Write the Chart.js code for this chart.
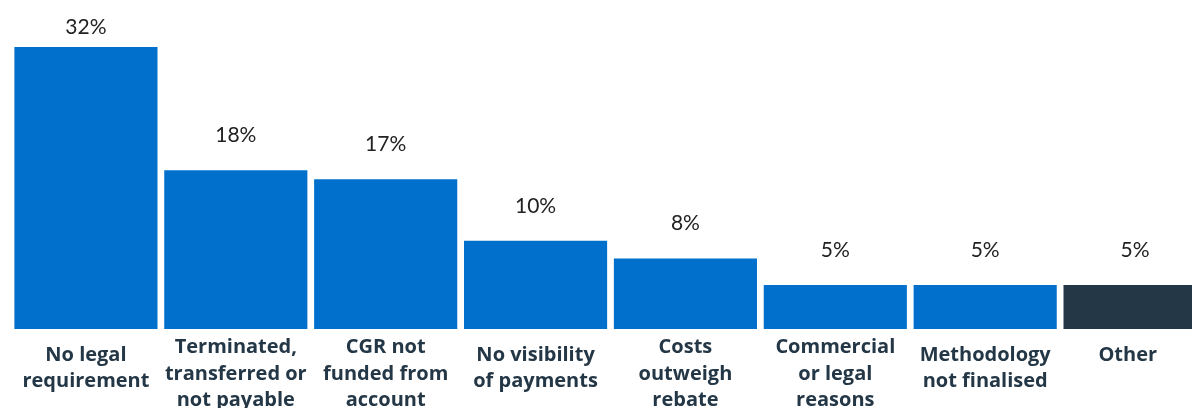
<!DOCTYPE html>
<html><head><meta charset="utf-8">
<script src="https://cdn.jsdelivr.net/npm/chart.js@4"></script>
<style>html,body{margin:0;padding:0;background:#fff;overflow:hidden}#wrap{width:1192px;height:408px;overflow:hidden;position:relative}#box{position:absolute;left:0;top:0;width:1210px;height:408px}</style>
</head><body><div id="wrap"><div id="box"><canvas id="c"></canvas></div></div>
<script>
const categories = [
  ["No legal","requirement"],
  ["Terminated,","transferred or","not payable"],
  ["CGR not","funded from","account"],
  ["No visibility","of payments"],
  ["Costs","outweigh","rebate"],
  ["Commercial","or legal","reasons"],
  ["Methodology","not finalised"],
  ["Other"]
];
const values = [32, 18, 17, 10, 8, 5, 5, 5];
const barColors = ["#0070CC","#0070CC","#0070CC","#0070CC","#0070CC","#0070CC","#0070CC","#243746"];

const VISIBLE_WIDTH = 1192;

const valueLabels = {
  id: 'valueLabels',
  afterDatasetsDraw(chart) {
    const ctx = chart.ctx;
    const meta = chart.getDatasetMeta(0);
    ctx.save();
    ctx.font = '21px Lato';
    ctx.fillStyle = '#222222';
    ctx.textAlign = 'center';
    ctx.textBaseline = 'alphabetic';
    meta.data.forEach((bar, i) => {
      ctx.fillText(values[i] + '%', bar.x, Math.max(bar.y - 28, 34));
    });
    ctx.restore();
  }
};

const categoryLabels = {
  id: 'categoryLabels',
  afterDraw(chart) {
    const ctx = chart.ctx;
    const xs = chart.scales.x;
    const meta = chart.getDatasetMeta(0);
    const bottom = chart.chartArea.bottom;
    const lh = 26.5;
    ctx.save();
    ctx.font = 'bold 20px "Open Sans"';
    ctx.fillStyle = '#243746';
    ctx.textAlign = 'center';
    ctx.textBaseline = 'alphabetic';
    categories.forEach((lines, i) => {
      const bar = meta.data[i];
      const left = bar.x - bar.width / 2;
      const right = Math.min(bar.x + bar.width / 2, VISIBLE_WIDTH);
      const cx = (left + right) / 2;
      const first = bottom + (lines.length >= 3 ? 24 : 31.5);
      lines.forEach((t, j) => ctx.fillText(t, cx, first + j * lh));
    });
    ctx.restore();
  }
};

new Chart(document.getElementById('c'), {
  type: 'bar',
  data: {
    labels: categories,
    datasets: [{ data: values, backgroundColor: barColors, borderWidth: 0, barPercentage: 0.955, categoryPercentage: 1.0 }]
  },
  options: {
    responsive: true,
    maintainAspectRatio: false,
    animation: false,
    layout: { padding: { left: 11, right: 0, top: 0, bottom: 0 } },
    plugins: { legend: { display: false }, tooltip: { enabled: false } },
    scales: {
      x: {
        grid: { display: false },
        border: { display: false },
        ticks: { display: false },
        afterFit: (s) => { s.height = 79; }
      },
      y: { display: false, min: 0, max: 37.33 }
    }
  },
  plugins: [valueLabels, categoryLabels]
});
</script></body></html>
